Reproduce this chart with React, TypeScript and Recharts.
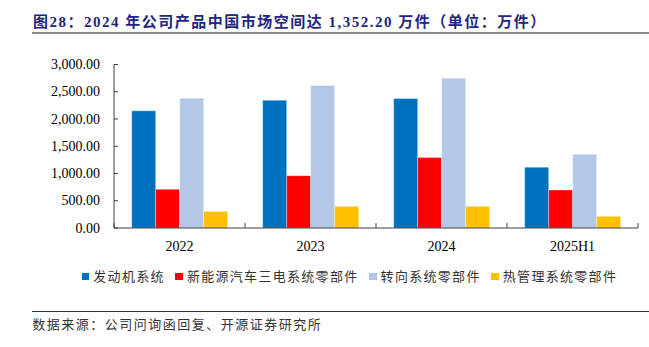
import { BarChart, Bar, XAxis, YAxis, Legend } from "recharts";

const categories = ["2022", "2023", "2024", "2025H1"];
const engineSystem = [2150, 2345, 2376, 1115];
const nevPowerParts = [710, 960, 1292, 698];
const steeringParts = [2382, 2614, 2750, 1353];
const thermalParts = [305, 398, 398, 214];
const yTicks = [0, 500, 1000, 1500, 2000, 2500, 3000];

const seriesNames = ["发动机系统", "新能源汽车三电系统零部件", "转向系统零部件", "热管理系统零部件"];
const seriesColors = ["#0070C0", "#FF0000", "#B4C7E7", "#FFC000"];
const seriesKeys = ["engine", "nev", "steering", "thermal"];

const data = categories.map((name, i) => ({
  name,
  engine: engineSystem[i],
  nev: nevPowerParts[i],
  steering: steeringParts[i],
  thermal: thermalParts[i],
}));

const W = 649;
const H = 347;
const margin = { top: 64.5, right: 11, left: 0, bottom: 87 };
const yAxisWidth = 114;
const halfBand = (W - yAxisWidth - margin.right) / categories.length / 2;

const serif = '"Liberation Serif", "Times New Roman", "Noto Sans CJK SC", serif';
const cjk = '"Liberation Serif", "Noto Sans CJK SC", sans-serif';
const axisColor = "#404040";

function fmt(v: number) {
  return v.toLocaleString("en-US", { minimumFractionDigits: 2, maximumFractionDigits: 2 });
}

function XTick(props: any) {
  const { x, y, payload, index } = props;
  return (
    <g>
      <line x1={x - halfBand} x2={x - halfBand} y1={y} y2={y - 5} stroke={axisColor} />
      {index === categories.length - 1 && (
        <line x1={x + halfBand} x2={x + halfBand} y1={y} y2={y - 5} stroke={axisColor} />
      )}
      <text x={x} y={y + 22.5} textAnchor="middle" fontFamily={serif} fontSize={14} fill="#000">
        {payload.value}
      </text>
    </g>
  );
}

function YTick(props: any) {
  const { x, y, payload } = props;
  return (
    <g>
      <line x1={x + 14} x2={x + 18} y1={y} y2={y} stroke={axisColor} />
      <text x={x} y={y + 4.6} textAnchor="end" fontFamily={serif} fontSize={14} fill="#000">
        {fmt(payload.value)}
      </text>
    </g>
  );
}

function LegendContent(props: any) {
  const items = [...(props.payload || [])].sort(
    (a: any, b: any) => seriesNames.indexOf(a.value) - seriesNames.indexOf(b.value)
  );
  return (
    <div style={{ display: "flex", alignItems: "center", fontFamily: cjk, fontSize: 13, letterSpacing: 1.3, color: "#333" }}>
      {items.map((p: any, i: number) => (
        <div key={i} style={{ display: "flex", alignItems: "center", marginRight: 10.5 }}>
          <span style={{ display: "inline-block", width: 7.6, height: 7.6, background: p.color, marginRight: 4 }} />
          <span style={{ lineHeight: "16px" }}>{p.value}</span>
        </div>
      ))}
    </div>
  );
}

export default function App() {
  return (
    <div style={{ position: "absolute", left: 0, top: 0, width: W, height: H, background: "#fff", overflow: "hidden" }}>
      <div style={{ position: "absolute", left: 0, top: 0 }}>
        <BarChart width={W} height={H} data={data} margin={margin} barCategoryGap="13.5%" barGap={0}>
          <XAxis
            dataKey="name"
            height={32}
            tickSize={0}
            tickMargin={0}
            axisLine={{ stroke: axisColor }}
            tickLine={false}
            tick={<XTick />}
            interval={0}
          />
          <YAxis
            width={yAxisWidth}
            domain={[0, 3000]}
            ticks={yTicks}
            tickSize={0}
            tickMargin={14}
            axisLine={{ stroke: axisColor }}
            tickLine={false}
            tick={<YTick />}
            interval={0}
          />
          <Legend
            layout="horizontal"
            verticalAlign="middle"
            align="center"
            itemSorter={null}
            content={<LegendContent />}
            wrapperStyle={{ left: 81.7, top: 268.5, width: 560 }}
          />
          {seriesKeys.map((k, i) => (
            <Bar
              key={k}
              dataKey={k}
              name={seriesNames[i]}
              fill={seriesColors[i]}
              stroke="#ffffff"
              strokeOpacity={0.35}
              strokeWidth={1}
              isAnimationActive={false}
            />
          ))}
        </BarChart>
      </div>
      <div
        style={{
          position: "absolute",
          left: 33,
          top: 12,
          lineHeight: "20px",
          fontFamily: cjk,
          fontSize: 15,
          fontWeight: "bold",
          letterSpacing: 1.5,
          color: "#1F2580",
          whiteSpace: "nowrap",
        }}
      >
        图28：2024 年公司产品中国市场空间达 1,352.20 万件（单位：万件）
      </div>
      <div style={{ position: "absolute", left: 31.7, top: 32.3, width: W - 31.7, height: 2, background: "#8C8C8C" }} />
      <div style={{ position: "absolute", left: 31.7, top: 310.5, width: W - 31.7, height: 1, background: "#333" }} />
      <div
        style={{
          position: "absolute",
          left: 32.3,
          top: 317,
          lineHeight: "16px",
          fontFamily: cjk,
          fontSize: 13,
          letterSpacing: 1.5,
          color: "#333",
          whiteSpace: "nowrap",
        }}
      >
        数据来源：公司问询函回复、开源证券研究所
      </div>
    </div>
  );
}
